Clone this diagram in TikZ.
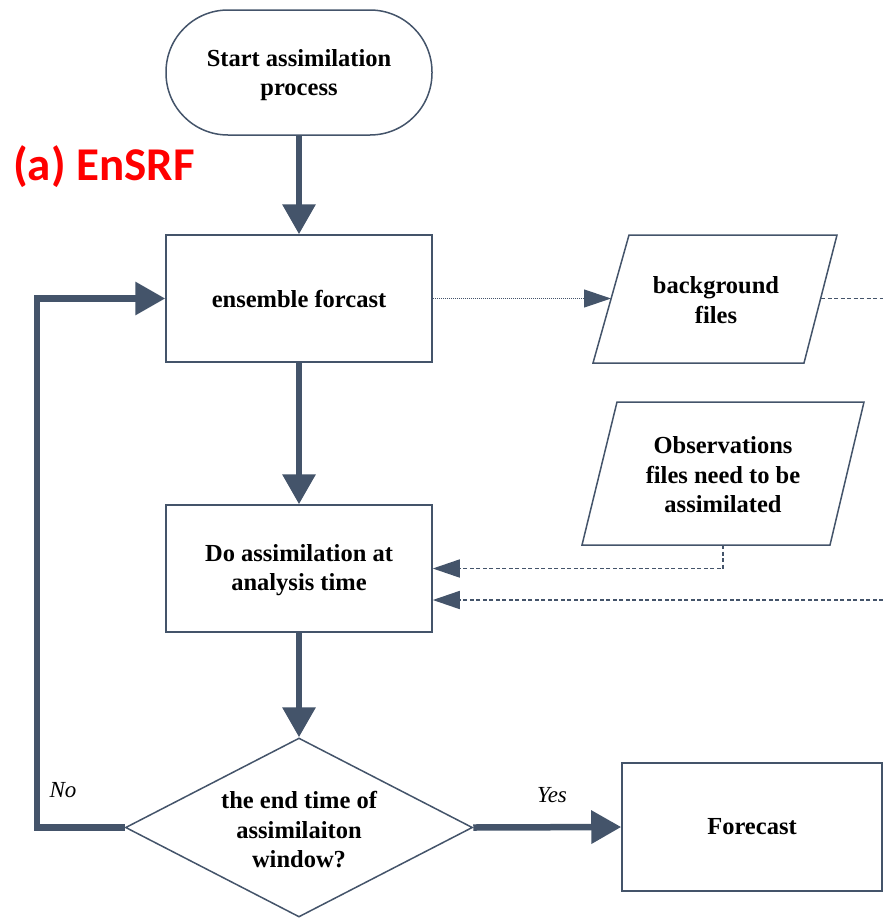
\documentclass[tikz,border=0pt]{standalone}
\usepackage{fontspec}
\setmainfont{Liberation Serif}
\newfontfamily\calibfont{Carlito}
\usetikzlibrary{arrows.meta,shapes.geometric}
\definecolor{slate}{HTML}{44546A}
\begin{document}
\begin{tikzpicture}[x=1pt,y=-1pt,
  txt/.style={align=center, inner sep=0pt, font=\fontsize{24.5}{29.5}\selectfont\bfseries},
  box/.style={txt, draw=slate, line width=1.5pt, fill=white, minimum width=266pt, minimum height=127pt},
  para/.style={draw=slate, line width=1.5pt, fill=white, line join=miter},
  diamondbox/.style={draw=slate, line width=1.5pt, fill=white, shape=diamond, inner sep=0pt, minimum width=347pt, minimum height=179pt},
  flow/.style={draw=slate, line width=6.5pt, line join=miter, -{Triangle[length=30pt,width=32pt]}},
  dasharrow/.style={draw=slate, line width=1.6pt, dash pattern=on 4pt off 2.5pt, -{Triangle[length=27pt,width=18pt]}},
  dotarrow/.style={draw=slate, line width=1.2pt, dash pattern=on 1pt off 1pt, -{Triangle[length=27pt,width=18pt]}},
  dashline/.style={draw=slate, line width=1.6pt, dash pattern=on 4pt off 2.5pt},
  lbl/.style={inner sep=0pt, font=\fontsize{23}{27}\selectfont\itshape}
]
\useasboundingbox (0,0) rectangle (883,918);

% nodes
\node[box, minimum height=125pt, rounded corners=62pt] (start) at (299,72.5) {};
\node[txt] (starttxt) at (299,75) {Start assimilation\\process};
\node[inner sep=0pt, text=red, font=\calibfont\bfseries\fontsize{47}{47}\selectfont] (title) at (104,167) {(a) EnSRF};
\node[box] (ens) at (299,298.5) {ensemble forcast};
\node[box] (da) at (299,568.5) {};
\node[txt] (datxt) at (299,570) {Do assimilation at\\analysis time};
\node[diamondbox] (dia) at (299,827.5) {};
\node[txt] (diatxt) at (299,830) {the end time of\\assimilaiton\\window?};
\node[box, minimum width=260pt, minimum height=128pt] (fc) at (752,827) {Forecast};

% parallelograms
\draw[para] (629,235) -- (837,235) -- (804,363) -- (593,363) -- cycle;
\node[txt] (bg) at (716,300) {background\\files};
\draw[para] (617,402) -- (864,402) -- (830,545) -- (582,545) -- cycle;
\node[txt] (obs) at (723,475) {Observations\\files need to be\\assimilated};

\coordinate (bgL) at (611,298.5);
\coordinate (bgR) at (821,298.5);
\coordinate (bgOut) at (883,298.5);
\coordinate (obsB) at (723,545);
\coordinate (rightIn) at (883,600);
\coordinate (loop) at (37,827.5);

% connectors
\draw[flow] (start.south) -- (ens.north);
\draw[flow] (ens.south) -- (da.north);
\draw[flow] (da.south) -- (dia.north);
\draw[flow] (dia.east) -- (fc.west);
\draw[flow] (dia.west) -- (loop) |- (ens.west);
\draw[dotarrow] (ens.east) -- (bgL);
\draw[dashline] (bgR) -- (bgOut);
\draw[dasharrow] (obsB) |- (da.east);
\draw[dasharrow] (rightIn) -- (rightIn -| da.east);

% labels
\node[lbl] (yes) at (552,795) {Yes};
\node[lbl] (no) at (63,790) {No};
\end{tikzpicture}
\end{document}
